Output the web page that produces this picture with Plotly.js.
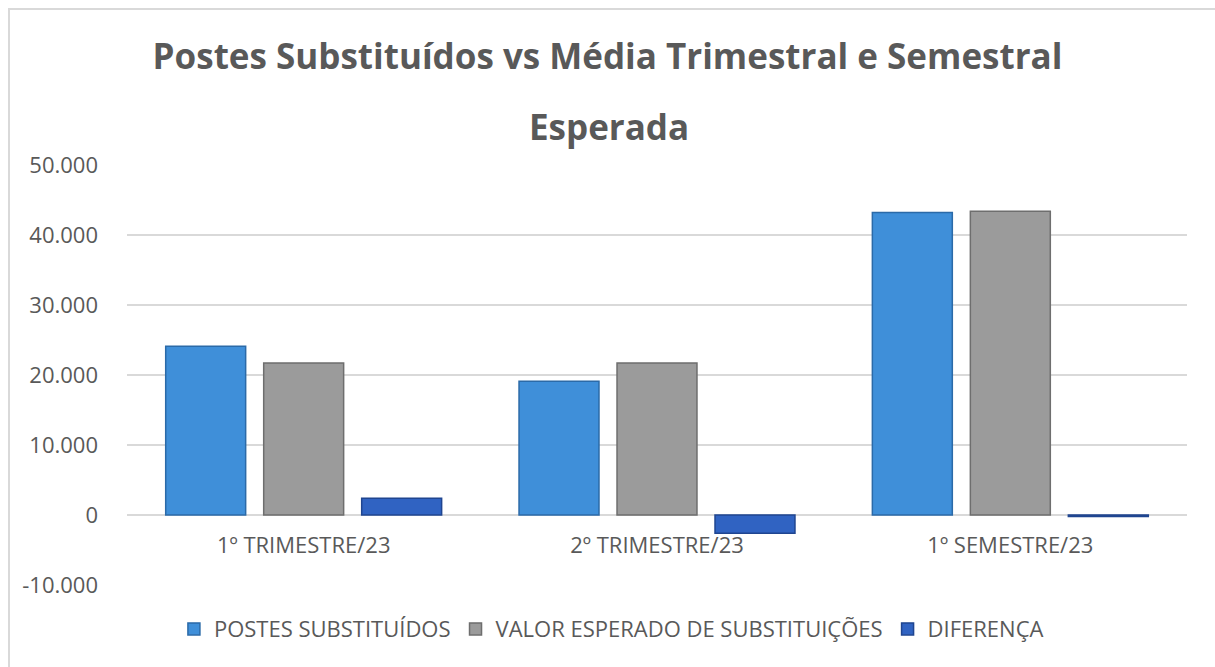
<!DOCTYPE html>
<html>
<head>
<meta charset="utf-8">
<script src="https://cdn.plot.ly/plotly-3.0.1.min.js"></script>
<style>
html,body{margin:0;padding:0;background:#fff;}
#wrap{position:relative;width:1215px;height:667px;overflow:hidden;}
#chart{position:absolute;left:0;top:0;width:1215px;height:667px;}
#frame{position:absolute;left:8px;top:8px;width:1220px;height:700px;border-top:2px solid #d9d9d9;border-left:2px solid #d9d9d9;pointer-events:none;}
</style>
</head>
<body>
<div id="wrap"><div id="chart"></div><div id="frame"></div></div>
<script>
const categories = ["1º TRIMESTRE/23", "2º TRIMESTRE/23", "1º SEMESTRE/23"];
const postesSubstituidos = [24100, 19100, 43200];
const valorEsperado = [21700, 21700, 43400];
const diferenca = [2400, -2600, -200];
const seriesNames = ["POSTES SUBSTITUÍDOS", "VALOR ESPERADO DE SUBSTITUIÇÕES", "DIFERENÇA"];
const yTickVals = [-10000, 0, 10000, 20000, 30000, 40000, 50000];
const yTickText = ["-10.000", "0", "10.000", "20.000", "30.000", "40.000", "50.000"];
const titleLine1 = "Postes Substituídos vs Média Trimestral e Semestral";
const titleLine2 = "Esperada";

const font = "'Open Sans', Lato, sans-serif";
const traces = [
  {type:"bar", name:seriesNames[0], x:categories, y:postesSubstituidos,
   marker:{color:"#3f8fd9", line:{color:"#2b6aa8", width:1.5}}},
  {type:"bar", name:seriesNames[1], x:categories, y:valorEsperado,
   marker:{color:"#9b9b9b", line:{color:"#6e6e6e", width:1.5}}},
  {type:"bar", name:seriesNames[2], x:categories, y:diferenca,
   marker:{color:"#3063c2", line:{color:"#1f4590", width:1.5}}}
];
const layout = {
  width:1215, height:667,
  margin:{l:127, r:28, t:165, b:82},
  paper_bgcolor:"#ffffff", plot_bgcolor:"#ffffff",
  barmode:"group", bargap:0.168, bargroupgap:0.184,
  title:{text:titleLine1,
         font:{family:font, size:35, color:"#595959", weight:"bold"},
         x:0.5, xref:"container", xanchor:"center", y:1-57/667, yref:"container", yanchor:"middle"},
  annotations:[{text:titleLine2, xref:"paper", yref:"paper",
         x:(609-127)/1060, y:(667-82-126)/420, xanchor:"center", yanchor:"middle",
         showarrow:false, font:{family:font, size:35, color:"#595959", weight:"bold"}}],
  xaxis:{type:"category", anchor:"free", position:10000/60000,
         showline:false, ticks:"", showgrid:false, zeroline:false,
         tickfont:{family:font, size:22, color:"#595959"}, ticklabelstandoff:15},
  yaxis:{range:[-10000,50000], tickvals:yTickVals, ticktext:yTickText,
         showgrid:true, gridcolor:"#d9d9d9", gridwidth:1.5,
         zeroline:true, zerolinecolor:"#d9d9d9", zerolinewidth:1.5,
         showline:false, ticks:"", ticklabelstandoff:28,
         tickfont:{family:font, size:22, color:"#595959"}},
  legend:{orientation:"h", x:0.457, xanchor:"center", y:-0.055, yanchor:"top",
          font:{family:font, size:22, color:"#595959"}, traceorder:"normal",
          itemwidth:30},
  showlegend:true
};
Plotly.newPlot("chart", traces, layout, {displayModeBar:false, staticPlot:true});
</script>
</body>
</html>
